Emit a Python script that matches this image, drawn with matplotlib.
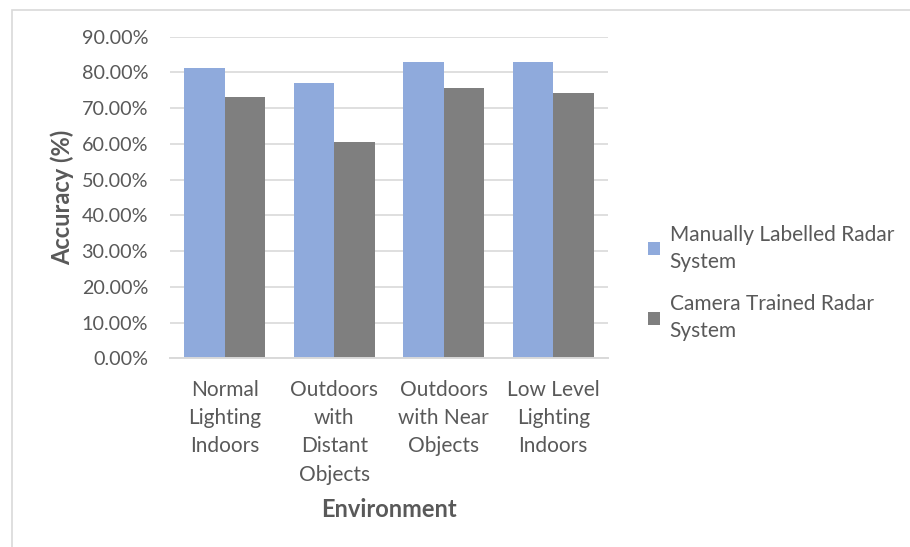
import matplotlib
matplotlib.use("Agg")
import matplotlib.pyplot as plt
from matplotlib.patches import Rectangle
from matplotlib.ticker import FuncFormatter, MultipleLocator
import numpy as np

categories = [
    "Normal\nLighting\nIndoors",
    "Outdoors\nwith\nDistant\nObjects",
    "Outdoors\nwith Near\nObjects",
    "Low Level\nLighting\nIndoors",
]
series_names = ["Manually Labelled Radar\nSystem", "Camera Trained Radar\nSystem"]
manual_acc = [0.812, 0.770, 0.828, 0.828]
camera_acc = [0.731, 0.606, 0.756, 0.743]

plt.rcParams["font.family"] = ["Lato", "DejaVu Sans"]
TEXT = "#595959"
W, H = 910, 547
fig = plt.figure(figsize=(W / 100, H / 100), dpi=100)

# outer chart border (open at right and bottom edges)
fig.patches.append(Rectangle((12 / W, -0.05), 1.1, 1.05 - 10 / H,
                             transform=fig.transFigure, fill=False,
                             edgecolor="#d9d9d9", linewidth=1.2))

ax = fig.add_axes([170 / W, (H - 358.3) / H, (608 - 170) / W, (358.3 - 36.7) / H])

x = np.arange(len(categories))
bw = 0.369
ax.bar(x - bw / 2, manual_acc, bw, color="#8faadc", label=series_names[0], zorder=3)
ax.bar(x + bw / 2, camera_acc, bw, color="#7f7f7f", label=series_names[1], zorder=3)

ax.set_xlim(-0.5, len(categories) - 0.5)
ax.set_ylim(0, 0.9)
ax.yaxis.set_major_locator(MultipleLocator(0.1))
ax.yaxis.set_major_formatter(FuncFormatter(lambda v, p: f"{v * 100:.2f}%"))
ax.grid(axis="y", color="#d9d9d9", linewidth=1.2, zorder=0)
for s in ["top", "right", "left"]:
    ax.spines[s].set_visible(False)
ax.spines["bottom"].set_color("#d9d9d9")
ax.spines["bottom"].set_linewidth(1.4)
ax.spines["bottom"].set_zorder(4)

ax.set_xticks(x)
ax.set_xticklabels(categories)
ax.tick_params(axis="both", length=0, colors=TEXT)
ax.tick_params(axis="y", pad=15.8, labelsize=14.2)
ax.tick_params(axis="x", pad=15.5, labelsize=15)
for t in ax.get_xticklabels():
    t.set_linespacing(1.52)

ax.set_ylabel("Accuracy (%)", fontsize=17, fontweight="bold", color=TEXT, labelpad=5.5)
ax.set_xlabel("Environment", fontsize=17, fontweight="bold", color=TEXT, labelpad=9.5)

leg = ax.legend(loc="center left", bbox_to_anchor=(629 / W, (H - 283) / H),
                bbox_transform=fig.transFigure, frameon=False, fontsize=15,
                handlelength=0.6, handleheight=0.6, handletextpad=0.45,
                labelspacing=1.1, labelcolor=TEXT)
for t in leg.get_texts():
    t.set_linespacing(1.43)

fig.savefig("out.png", dpi=100, facecolor="white")
